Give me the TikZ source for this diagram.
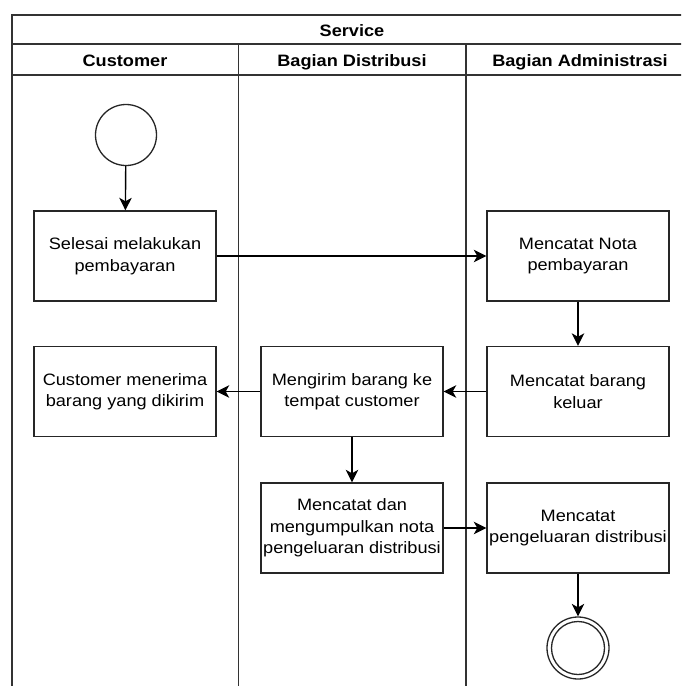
\documentclass[tikz,border=0pt]{standalone}
\usepackage{fontspec}
\setmainfont[FakeStretch=1.1]{Liberation Sans}
\usetikzlibrary{arrows.meta}
\begin{document}
\begin{tikzpicture}[x=1pt,y=-1pt,
  lane/.style={draw=black!80,line width=1.8pt},
  act/.style={draw=black!85,line width=1.4pt,fill=white,minimum width=182pt,minimum height=90pt,
    align=center,inner sep=0pt,font=\fontsize{16.5}{21.5}\selectfont},
  hdr/.style={font=\fontsize{16.5}{20}\selectfont\bfseries,inner sep=0pt,anchor=base},
  flow/.style={draw=black,line width=1.4pt,-{Stealth[length=12.5pt,width=12.5pt,inset=3.5pt]}},
  startnode/.style={circle,draw=black!85,line width=1.3pt,minimum size=61pt,inner sep=0pt},
  endnode/.style={circle,draw=black!85,line width=1.3pt,minimum size=62pt,inner sep=0pt}
]
\useasboundingbox (0,0) rectangle (681,686);
\begin{scope}
\clip (0,0) rectangle (681,686);
% swimlane frame
\draw[lane] (12,700) -- (12,15) -- (700,15);
\draw[lane] (12,44) -- (700,44);
\draw[lane] (12,75) -- (700,75);
\draw[lane] (238.5,44) -- (238.5,700);
\draw[lane] (466,44) -- (466,700);
\end{scope}
% headers
\node[hdr] (svc) at (352,36) {Service};
\node[hdr] (hcust) at (125,66) {Customer};
\node[hdr] (hdist) at (352,66) {Bagian Distribusi};
\node[hdr] (hadm) at (580,66) {Bagian Administrasi};
% activities
\node[startnode] (start) at (126,135) {};
\node[act] (b1) at (125,256) {Selesai melakukan\\pembayaran};
\node[act] (b2) at (578,256) {Mencatat Nota\\pembayaran};
\node[act] (b3) at (578,391.5) {Mencatat barang\\keluar};
\node[act] (b4) at (352,391.5) {Mengirim barang ke\\tempat customer};
\node[act] (b5) at (125,391.5) {Customer menerima\\barang yang dikirim};
\node[act] (b6) at (352,528) {Mencatat dan\\mengumpulkan nota\\pengeluaran distribusi};
\node[act] (b7) at (578,528) {Mencatat\\pengeluaran distribusi};
\node[endnode] (stop) at (578,648) {};
\node[circle,draw=black!85,line width=1.3pt,minimum size=53pt,inner sep=0pt] (stopin) at (stop) {};
% flows
\draw[flow] (start) -- (b1);
\draw[flow] (b1) -- (b2);
\draw[flow] (b2) -- (b3);
\draw[flow] (b3) -- (b4);
\draw[flow] (b4) -- (b5);
\draw[flow] (b4) -- (b6);
\draw[flow] (b6) -- (b7);
\draw[flow] (b7) -- (stop);
\end{tikzpicture}
\end{document}
